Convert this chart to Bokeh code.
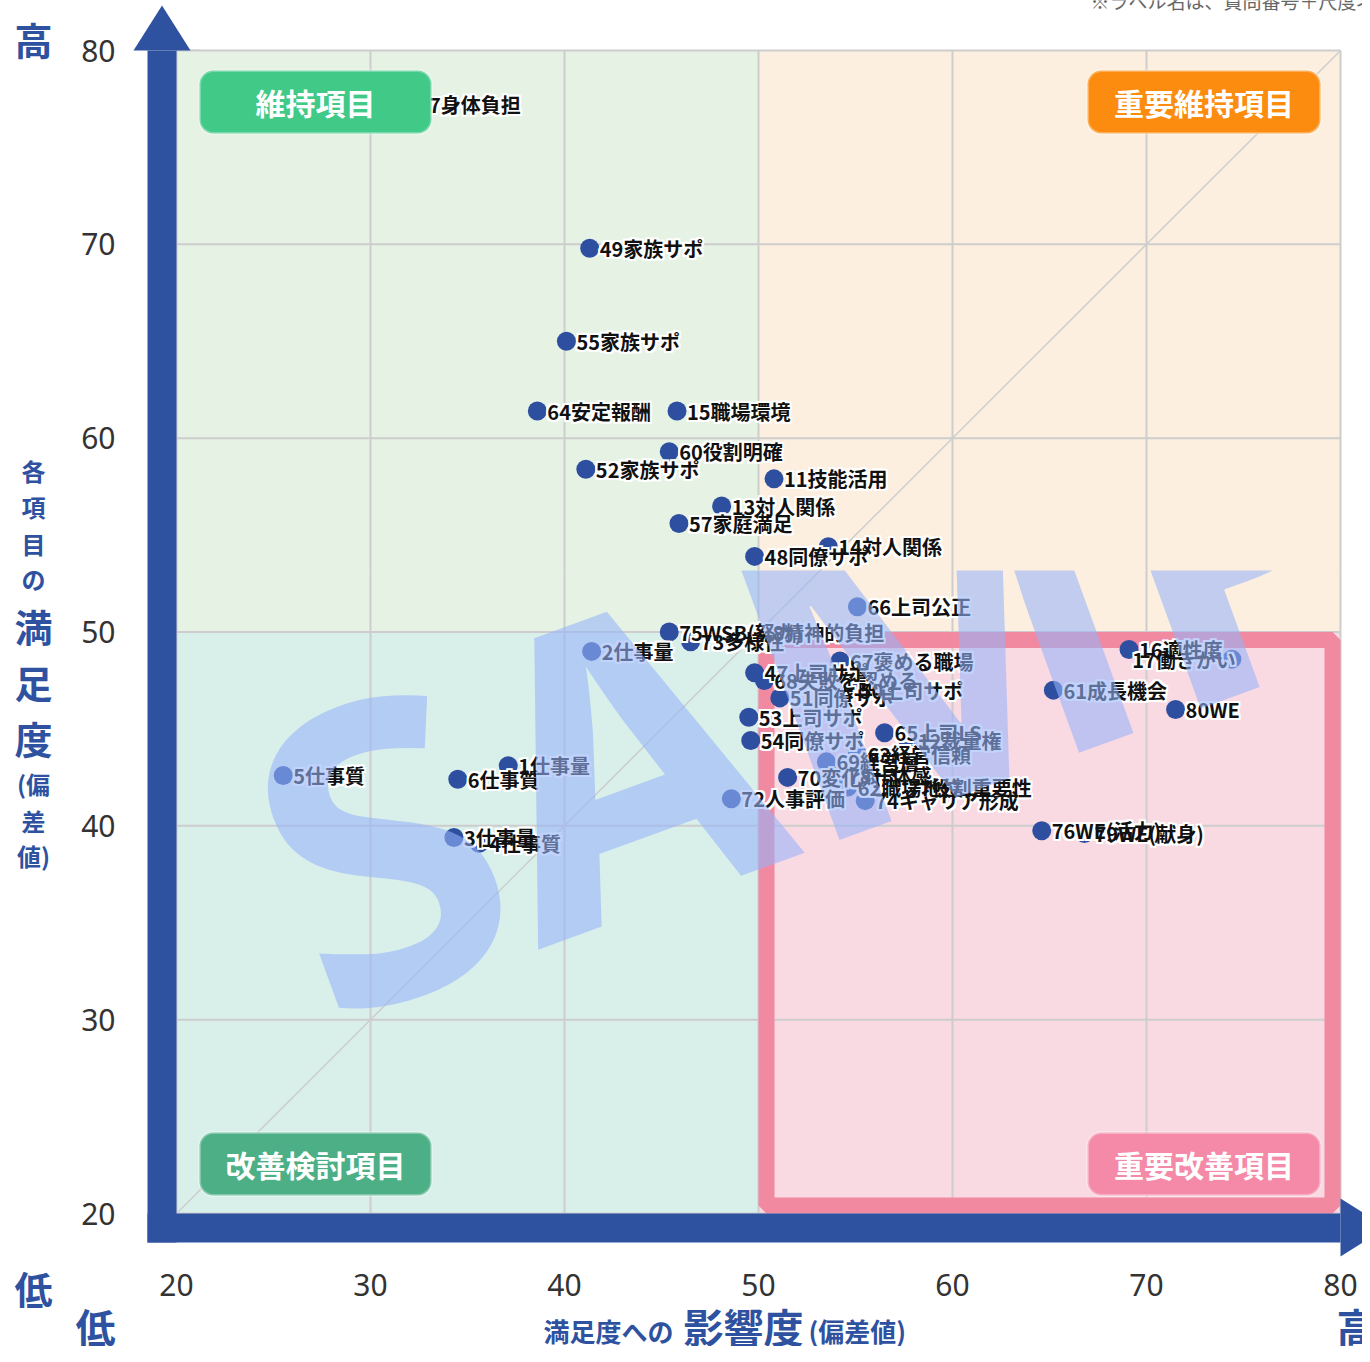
from bokeh.plotting import figure
from bokeh.models import Range1d, ColumnDataSource, BoxAnnotation
from bokeh.core.properties import value
from bokeh.embed import file_html
from bokeh.resources import INLINE
import math

# ---------------- data ----------------
labels = ["7身体負担", "49家族サポ", "55家族サポ", "64安定報酬", "15職場環境", "60役割明確",
          "52家族サポ", "11技能活用", "13対人関係", "57家庭満足", "14対人関係", "48同僚サポ",
          "66上司公正", "75WSB(努力)", "8精神的負担", "73多様性", "2仕事量", "47上司サポ",
          "68失敗を認める", "67褒める職場", "50上司サポ", "51同僚サポ", "53上司サポ", "54同僚サポ",
          "65上司LS", "12裁量権", "69経営層", "63経営信頼", "70変化対応", "78一体感",
          "62職場地位", "77役割重要性", "74キャリア形成", "72人事評価", "76WE(活力)", "79WE(献身)",
          "16適性度", "17働きがい", "61成長機会", "80WE", "5仕事質", "6仕事質",
          "1仕事量", "3仕事量", "4仕事質"]
impact = [32.5, 41.3, 40.1, 38.6, 45.8, 45.4,
          41.1, 50.8, 48.1, 45.9, 53.6, 49.8,
          55.1, 45.4, 50.2, 46.5, 41.4, 49.8,
          50.3, 54.2, 54.7, 51.1, 49.5, 49.6,
          56.5, 57.7, 53.5, 55.1, 51.5, 54.1,
          54.6, 57.2, 55.5, 48.6, 64.6, 66.8,
          69.1, 74.4, 65.2, 71.5, 25.5, 34.5,
          37.1, 34.3, 35.6]
satisfaction = [77.2, 69.8, 65.0, 61.4, 61.4, 59.3,
                58.4, 57.9, 56.5, 55.6, 54.4, 53.9,
                51.3, 50.0, 50.0, 49.5, 49.0, 47.9,
                47.5, 48.5, 47.0, 46.6, 45.6, 44.4,
                44.8, 44.4, 43.3, 43.7, 42.5, 42.6,
                42.0, 42.0, 41.3, 41.4, 39.75, 39.6,
                49.1, 48.6, 47.0, 46.0, 42.6, 42.4,
                43.1, 39.4, 39.1]
x_ticks = [20, 30, 40, 50, 60, 70, 80]
y_ticks = [20, 30, 40, 50, 60, 70, 80]
quadrant_names = ["維持項目", "重要維持項目", "改善検討項目", "重要改善項目"]
watermark_text = "SAMPLE"
note_text = "※ラベル名は、質問番号＋尺度名"

# ---------------- layout helpers ----------------
W, H = 1362, 1346
FL, FR, FT, FB = 176, 1340, 50, 1213
sx = (FR - FL) / 60.0
sy = (FB - FT) / 60.0
xlo = 20 - FL / sx
xhi = 80 + (W - FR) / sx
yhi = 80 + FT / sy
ylo = 20 - (H - FB) / sy


def fx(px):
    return xlo + px / sx


def fy(py):
    return yhi - py / sy


BLUE = "#2e52a0"
DOT = "#2e4fa0"
GRID = "#cdcdcd"
C_TL, C_TR, C_BL, C_BR = "#e5f2e4", "#fdefdf", "#d8efea", "#f9d9e2"
C_BORDER = "#f189a1"
JP = value("Noto Sans CJK JP")
NUM = value("Noto Sans")
WM_CLIP = fy(570)

p = figure(width=W, height=H, x_range=Range1d(xlo, xhi), y_range=Range1d(ylo, yhi),
           x_axis_type=None, y_axis_type=None, toolbar_location=None,
           output_backend="svg", min_border=0, outline_line_color=None)
p.title.visible = False
p.background_fill_color = "white"
p.border_fill_color = "white"

quads = [(20, 50, 50, 80, C_TL), (50, 80, 50, 80, C_TR),
         (20, 50, 20, 50, C_BL), (50, 80, 20, 50, C_BR)]


def draw_field(ybot):
    for (l, r, b, t, c) in quads:
        bb = max(b, ybot)
        if bb < t:
            p.quad(left=[l], right=[r], bottom=[bb], top=[t], fill_color=c, line_color=None)
    p.segment(x0=x_ticks, y0=[max(ybot, 20)] * len(x_ticks), x1=x_ticks, y1=[80] * len(x_ticks),
              line_color=GRID, line_width=2)
    ys = [v for v in y_ticks if v >= ybot]
    p.segment(x0=[20] * len(ys), y0=ys, x1=[80] * len(ys), y1=ys, line_color=GRID, line_width=2)
    d0 = max(ybot, 20)
    p.segment(x0=[d0], y0=[d0], x1=[80], y1=[80], line_color=GRID, line_width=1.5)
    if ybot < 50:
        ix, iy = 8 / sx, 8 / sy
        p.quad(left=[50 + ix], right=[80 - ix], bottom=[20 + iy], top=[50 - iy],
               fill_color=None, line_color=C_BORDER, line_width=16)


halo_offsets = [(-2, -2), (-2, 0), (-2, 2), (0, -2), (0, 2), (2, -2), (2, 0), (2, 2)]


def draw_points(idx):
    xs = [impact[i] for i in idx]
    ys = [satisfaction[i] for i in idx]
    ts = [labels[i] for i in idx]
    al = ["right" if x > 73 else "left" for x in xs]
    xo = [4 if a == "right" else 10 for a in al]
    p.scatter(x=xs, y=ys, size=19, color=DOT, line_color=None)
    for dx, dy in halo_offsets:
        src = ColumnDataSource(dict(x=xs, y=ys, t=ts, a=al, xo=[o + dx for o in xo], yo=[dy] * len(xs)))
        p.text(x="x", y="y", text="t", source=src, text_align="a", x_offset="xo", y_offset="yo",
               text_baseline="middle", text_font=JP, text_font_style="bold",
               text_font_size="20px", text_color="white")
    src = ColumnDataSource(dict(x=xs, y=ys, t=ts, a=al, xo=xo))
    p.text(x="x", y="y", text="t", source=src, text_align="a", x_offset="xo",
           text_baseline="middle", text_font=JP, text_font_style="bold",
           text_font_size="20px", text_color="#111111")


def draw_note():
    p.text(x=[fx(1090)], y=[fy(0)], text=[note_text], text_font=JP, text_font_size="19px",
           text_color="#666666", text_baseline="middle")


# ---- base layer ----
draw_field(20)
all_idx = list(range(len(labels)))
draw_points(all_idx)
draw_note()

# ---- watermark ----
WM_ANGLE = math.radians(20)
p.text(x=[fx(271)], y=[fy(877)], text=[watermark_text], angle=WM_ANGLE,
       text_font=value("Noto Sans"), text_font_style="bold", text_font_size="410px",
       text_color="#96b4fa", text_alpha=0.58, text_baseline="alphabetic")

# ---- clip the watermark above its band ----
p.quad(left=[fx(200)], right=[xhi], bottom=[80], top=[yhi], fill_color="white", line_color=None)
p.quad(left=[80], right=[xhi], bottom=[WM_CLIP], top=[80], fill_color="white", line_color=None)
draw_field(WM_CLIP)
draw_points([i for i in all_idx if satisfaction[i] > WM_CLIP])
draw_note()

# ---- axis arrows ----
p.quad(left=[fx(147)], right=[fx(176)], top=[fy(50)], bottom=[fy(1242)], fill_color=BLUE, line_color=None)
p.patch(x=[fx(133), fx(190), fx(161.5)], y=[fy(50), fy(50), fy(5)], fill_color=BLUE, line_color=None)
p.quad(left=[fx(147)], right=[fx(1340)], top=[fy(1213)], bottom=[fy(1242)], fill_color=BLUE, line_color=None)
p.patch(x=[fx(1340), fx(1340), fx(1386)], y=[fy(1198), fy(1256), fy(1227)], fill_color=BLUE, line_color=None)

# ---- tick labels ----
p.text(x=[fx(115)] * len(y_ticks), y=y_ticks, text=[str(v) for v in y_ticks], text_align="right",
       text_baseline="middle", text_font=NUM, text_font_size="30px", text_color="#333333")
p.text(x=x_ticks, y=[fy(1284)] * len(x_ticks), text=[str(v) for v in x_ticks], text_align="center",
       text_baseline="middle", text_font=NUM, text_font_size="30px", text_color="#333333")


# ---- axis words ----
def blue_text(px, py, t, size, align="center"):
    p.text(x=[fx(px)], y=[fy(py)], text=[t], text_align=align, text_baseline="middle",
           text_font=JP, text_font_style="bold", text_font_size=f"{size}px", text_color=BLUE)


blue_text(33, 38, "高", 38)
blue_text(33, 1287, "低", 38)
blue_text(95, 1325, "低", 40)
blue_text(1356, 1325, "高", 40)
for ch, py, sz in [("各", 470, 24), ("項", 506, 24), ("目", 543, 24), ("の", 578, 24),
                   ("満", 625, 38), ("足", 681, 38), ("度", 737, 38),
                   ("(偏", 783, 24), ("差", 820, 24), ("値)", 855, 24)]:
    blue_text(33, py, ch, sz)
blue_text(543, 1330, "満足度への", 26, "left")
blue_text(683, 1325, "影響度", 40, "left")
blue_text(808, 1330, "(偏差値)", 26, "left")

# ---- quadrant name boxes ----
boxes = [(199, 431, 70, 133, "#40c987"), (1087, 1320, 70, 133, "#fc8c10"),
         (199, 431, 1132, 1195, "#4caf85"), (1087, 1320, 1132, 1195, "#f48aa8")]
for (l, r, t, b, c), name in zip(boxes, quadrant_names):
    p.add_layout(BoxAnnotation(left=fx(l), right=fx(r), top=fy(t), bottom=fy(b),
                               fill_color=c, fill_alpha=1.0, line_color="white", line_width=3,
                               border_radius=14))
    p.text(x=[fx((l + r) / 2)], y=[fy((t + b) / 2)], text=[name], text_align="center",
           text_baseline="middle", text_font=JP, text_font_style="bold", text_font_size="30px",
           text_color="white", level="overlay")

open("out.html", "w").write(file_html(p, INLINE))
